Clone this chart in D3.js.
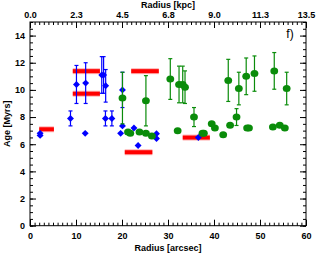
<!DOCTYPE html>
<html>
<head>
<meta charset="utf-8">
<script src="https://cdn.jsdelivr.net/npm/d3@7"></script>
<style>
  body { margin: 0; background: #fff; }
  svg { display: block; font-family: "Liberation Sans", Arial, sans-serif; }
  .tick text { font-size: 9px; font-weight: bold; fill: #000; }
  .tick line { stroke: #000; }
</style>
</head>
<body>
<svg id="chart"></svg>
<script>
// blue sample (diamonds)
const blueR   = [2.2, 2.2, 8.8, 10.1, 12.1, 12.0, 15.6, 16.0, 16.45, 16.4, 17.8, 19.7, 20.1, 20.1, 22.6, 23.5, 27.5, 27.5, 36.6]
const blueAge = [6.8, 6.65, 7.9, 10.4, 10.5, 6.8, 11.1, 11.1, 10.3, 7.9, 7.9, 6.8, 10.0, 7.35, 7.2, 5.9, 6.78, 6.42, 6.49]
const blueErr = [0, 0, 0.55, 1.4, 1.5, 0, 1.35, 1.35, 1.2, 0.55, 0.55, 0, 1.3, 0, 0, 0, 0, 0, 0]

// green sample (circles)
const greenR   = [20.1, 21.3, 21.8, 23.8, 25.2, 25.2, 26.5, 30.5, 32.1, 32.4, 33.2, 33.7, 35.65, 37.5, 37.8, 39.5, 40.2, 42.0, 43.1, 43.5, 44.9, 45.4, 47.0, 47.2, 47.6, 48.8, 52.8, 53.1, 54.3, 55.4, 55.8]
const greenAge = [9.4, 6.9, 6.8, 6.9, 9.2, 6.8, 6.6, 10.8, 7.0, 10.4, 10.4, 10.2, 8.0, 6.8, 6.8, 7.5, 7.2, 6.7, 10.7, 7.4, 8.0, 10.1, 11.0, 7.2, 7.2, 11.2, 7.27, 11.4, 7.4, 7.2, 10.1]
const greenErr = [1.9, 0, 0, 0, 1.85, 0, 0, 1.5, 0, 1.35, 1.35, 1.2, 0.7, 0, 0, 0, 0, 0, 1.55, 0, 0.62, 1.2, 1.35, 0, 0, 1.3, 0, 1.35, 0, 0, 1.2]

// red ranges
const redFrom = [2.0, 9.3, 9.3, 22.0, 20.6, 33.2]
const redTo   = [5.2, 15.2, 15.2, 28.0, 26.6, 39.1]
const redAge  = [7.1, 11.38, 9.72, 11.38, 5.41, 6.49]

const xMajor = [0, 10, 20, 30, 40, 50, 60]
const kpcLabels = ['0.0', '2.3', '4.5', '6.8', '9.0', '11.3', '13.5']
const yMajor = [0, 2, 4, 6, 8, 10, 12, 14]

const width = 317
const height = 254
const svg = d3.select('#chart').attr('width', width).attr('height', height)

const x = d3.scaleLinear().domain([0, 60]).range([30, 306])
const y = d3.scaleLinear().domain([0, 15]).range([225.7, 22])

const blue = '#0000ff'
const green = '#0a8c0a'
const red = '#ff0000'

// axes, ticks pointing inward
const axes = svg.append('g')
axes.append('g').attr('transform', `translate(0,${y(0)})`)
  .call(d3.axisBottom(x).tickValues(xMajor).tickSize(-6).tickPadding(7))
axes.append('g').attr('transform', `translate(0,${y(0)})`)
  .call(d3.axisBottom(x).tickValues(d3.range(0, 61, 1)).tickSize(-3).tickFormat(''))
axes.append('g').attr('transform', `translate(0,${y(15)})`)
  .call(d3.axisTop(x).tickValues(xMajor).tickSize(-6).tickPadding(4).tickFormat((d, i) => kpcLabels[i]))
axes.append('g').attr('transform', `translate(0,${y(15)})`)
  .call(d3.axisTop(x).tickValues(d3.range(0, 61, 1)).tickSize(-3).tickFormat(''))
axes.append('g').attr('transform', `translate(${x(0)},0)`)
  .call(d3.axisLeft(y).tickValues(yMajor).tickSize(-6).tickPadding(5))
axes.append('g').attr('transform', `translate(${x(0)},0)`)
  .call(d3.axisLeft(y).tickValues(d3.range(0, 15.01, 0.5)).tickSize(-3).tickFormat(''))
axes.append('g').attr('transform', `translate(${x(60)},0)`)
  .call(d3.axisRight(y).tickValues(yMajor).tickSize(-6).tickFormat(''))
axes.append('g').attr('transform', `translate(${x(60)},0)`)
  .call(d3.axisRight(y).tickValues(d3.range(0, 15.01, 0.5)).tickSize(-3).tickFormat(''))
axes.selectAll('.domain').remove()

svg.append('rect')
  .attr('x', x(0)).attr('y', y(15))
  .attr('width', x(60) - x(0)).attr('height', y(0) - y(15))
  .attr('fill', 'none').attr('stroke', '#000').attr('stroke-width', 1)

// red bars
const redIdx = d3.range(redAge.length)
svg.append('g').selectAll('line').data(redIdx).join('line')
  .attr('x1', i => x(redFrom[i])).attr('x2', i => x(redTo[i]))
  .attr('y1', i => y(redAge[i])).attr('y2', i => y(redAge[i]))
  .attr('stroke', red).attr('stroke-opacity', 0.3).attr('stroke-width', 6)
svg.append('g').selectAll('line').data(redIdx).join('line')
  .attr('x1', i => x(redFrom[i])).attr('x2', i => x(redTo[i]))
  .attr('y1', i => y(redAge[i])).attr('y2', i => y(redAge[i]))
  .attr('stroke', red).attr('stroke-width', 4)

function errorBars(g, xs, ys, es, color) {
  const idx = d3.range(xs.length).filter(i => es[i] > 0)
  const e = g.append('g').attr('stroke', color).attr('stroke-width', 1.2)
  e.selectAll('.v').data(idx).join('line')
    .attr('x1', i => x(xs[i])).attr('x2', i => x(xs[i]))
    .attr('y1', i => y(ys[i] - es[i])).attr('y2', i => y(ys[i] + es[i]))
  e.selectAll('.t').data(idx).join('line')
    .attr('x1', i => x(xs[i]) - 2).attr('x2', i => x(xs[i]) + 2)
    .attr('y1', i => y(ys[i] + es[i])).attr('y2', i => y(ys[i] + es[i]))
  e.selectAll('.b').data(idx).join('line')
    .attr('x1', i => x(xs[i]) - 2).attr('x2', i => x(xs[i]) + 2)
    .attr('y1', i => y(ys[i] - es[i])).attr('y2', i => y(ys[i] - es[i]))
}

// blue diamonds
const blueG = svg.append('g')
errorBars(blueG, blueR, blueAge, blueErr, blue)
blueG.selectAll('path').data(d3.range(blueR.length)).join('path')
  .attr('d', d3.symbol(d3.symbolSquare, 24))
  .attr('transform', i => `translate(${x(blueR[i])},${y(blueAge[i])}) rotate(45)`)
  .attr('fill', blue)

// green circles
const greenG = svg.append('g')
errorBars(greenG, greenR, greenAge, greenErr, green)
greenG.selectAll('ellipse').data(d3.range(greenR.length)).join('ellipse')
  .attr('cx', i => x(greenR[i])).attr('cy', i => y(greenAge[i]))
  .attr('rx', 3.9).attr('ry', 3.5)
  .attr('fill', green)

// titles
svg.append('text').attr('x', (x(0) + x(60)) / 2).attr('y', 251)
  .attr('text-anchor', 'middle').attr('font-size', 9).attr('font-weight', 'bold')
  .text('Radius [arcsec]')
svg.append('text').attr('x', (x(0) + x(60)) / 2).attr('y', 8)
  .attr('text-anchor', 'middle').attr('font-size', 9).attr('font-weight', 'bold')
  .text('Radius [kpc]')
svg.append('text').attr('transform', `translate(10,${(y(0) + y(15)) / 2}) rotate(-90)`)
  .attr('text-anchor', 'middle').attr('font-size', 9).attr('font-weight', 'bold')
  .text('Age [Myrs]')
svg.append('text').attr('x', 290).attr('y', 38)
  .attr('text-anchor', 'middle').attr('font-size', 12)
  .text('f)')
</script>
</body>
</html>
